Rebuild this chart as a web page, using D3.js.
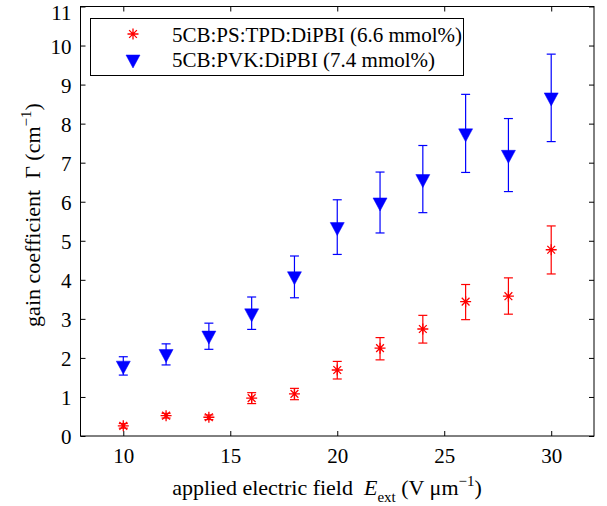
<!DOCTYPE html>
<meta charset="utf-8">
<script src="https://d3js.org/d3.v7.min.js"></script>
<style>
body { margin: 0; background: #fff; }
text { font-family: "Liberation Serif", "Times New Roman", serif; fill: #000; }
.axis path { display: none; }
.axis line { stroke: #000; stroke-width: 1px; }
</style>
<body>
<div id="chart"></div>
<script>
// applied field (V/um)
var fieldValues = [10, 12, 14, 16, 18, 20, 22, 24, 26, 28, 30];

// 5CB:PS:TPD:DiPBI (6.6 mmol%)
var psGain = [0.26, 0.52, 0.48, 0.97, 1.08, 1.69, 2.25, 2.74, 3.44, 3.58, 4.77];
var psLow  = [0.20, 0.46, 0.42, 0.83, 0.93, 1.46, 1.95, 2.38, 2.98, 3.12, 4.15];
var psHigh = [0.32, 0.58, 0.54, 1.11, 1.22, 1.91, 2.52, 3.09, 3.88, 4.05, 5.38];

// 5CB:PVK:DiPBI (7.4 mmol%)
var pvkGain = [1.75, 2.05, 2.52, 3.09, 4.04, 5.30, 5.93, 6.53, 7.70, 7.15, 8.62];
var pvkLow  = [1.56, 1.82, 2.22, 2.73, 3.54, 4.65, 5.20, 5.72, 6.75, 6.26, 7.54];
var pvkHigh = [2.03, 2.36, 2.89, 3.56, 4.61, 6.05, 6.76, 7.44, 8.75, 8.13, 9.78];

var seriesNames = ['5CB:PS:TPD:DiPBI (6.6 mmol%)', '5CB:PVK:DiPBI (7.4 mmol%)'];
var seriesColors = ['#ff0000', '#0000ff'];

var xTicks = [10, 15, 20, 25, 30];
var yTicks = [0, 1, 2, 3, 4, 5, 6, 7, 8, 9, 10, 11];

var width = 607, height = 506;
var margin = {top: 6.5, right: 13, bottom: 70, left: 80.5};

var svg = d3.select('#chart').append('svg')
    .attr('width', width)
    .attr('height', height);

var x = d3.scaleLinear().domain([8, 32]).range([margin.left, width - margin.right]);
var y = d3.scaleLinear().domain([0, 11]).range([height - margin.bottom, margin.top]);

var tickLen = 5;

// bottom & top axes (ticks inward)
svg.append('g').attr('class', 'axis')
    .attr('transform', 'translate(0,' + y(0) + ')')
    .call(d3.axisBottom(x).tickValues(xTicks).tickSize(-tickLen).tickPadding(12))
    .selectAll('text').style('font-size', '21px');
svg.append('g').attr('class', 'axis')
    .attr('transform', 'translate(0,' + y(11) + ')')
    .call(d3.axisTop(x).tickValues(xTicks).tickSize(-tickLen).tickFormat(''));

// left & right axes
svg.append('g').attr('class', 'axis')
    .attr('transform', 'translate(' + x(8) + ',0)')
    .call(d3.axisLeft(y).tickValues(yTicks).tickSize(-tickLen).tickPadding(9))
    .selectAll('text')
    .style('font-size', '21px')
    .attr('dy', function(d) { return d === 11 ? '0.62em' : '0.36em'; });
svg.append('g').attr('class', 'axis')
    .attr('transform', 'translate(' + x(32) + ',0)')
    .call(d3.axisRight(y).tickValues(yTicks).tickSize(-tickLen).tickFormat(''));

// frame
svg.append('rect')
    .attr('x', x(8)).attr('y', y(11))
    .attr('width', x(32) - x(8)).attr('height', y(0) - y(11))
    .attr('fill', 'none').attr('stroke', '#000').attr('stroke-width', 1);

// marker shapes
var starPath = (function() {
    var r = 5.5, d = r * Math.SQRT1_2;
    return 'M' + (-r) + ',0L' + r + ',0M0,' + (-r) + 'L0,' + r +
        'M' + (-d) + ',' + (-d) + 'L' + d + ',' + d + 'M' + (-d) + ',' + d + 'L' + d + ',' + (-d);
})();
var triPath = 'M-7,-6.5L7,-6.5L0,6.5Z';

function drawSeries(gain, low, high, color, marker) {
    var g = svg.append('g');
    var capW = 4.5;
    fieldValues.forEach(function(f, i) {
        var cx = x(f);
        g.append('line')
            .attr('x1', cx).attr('x2', cx)
            .attr('y1', y(low[i])).attr('y2', y(high[i]))
            .attr('stroke', color).attr('stroke-width', 1.2);
        [low[i], high[i]].forEach(function(v) {
            g.append('line')
                .attr('x1', cx - capW).attr('x2', cx + capW)
                .attr('y1', y(v)).attr('y2', y(v))
                .attr('stroke', color).attr('stroke-width', 1.2);
        });
    });
    g.selectAll('.mk')
        .data(fieldValues)
        .enter()
        .append('path')
        .attr('transform', function(d, i) { return 'translate(' + x(d) + ',' + y(gain[i]) + ')'; })
        .attr('d', marker)
        .attr('fill', marker === triPath ? color : 'none')
        .attr('stroke', color)
        .attr('stroke-width', marker === triPath ? 0.5 : 1.3);
}

drawSeries(psGain, psLow, psHigh, seriesColors[0], starPath);
drawSeries(pvkGain, pvkLow, pvkHigh, seriesColors[1], triPath);

// legend
var legend = svg.append('g');
legend.append('rect')
    .attr('x', 90.5).attr('y', 18.5)
    .attr('width', 373).attr('height', 57)
    .attr('fill', '#fff').attr('stroke', '#000').attr('stroke-width', 1);
var legMarkers = [starPath, triPath];
var legMarkerY = [34, 61.5];
var legTextY = [42, 67];
seriesNames.forEach(function(name, i) {
    legend.append('path')
        .attr('transform', 'translate(133,' + legMarkerY[i] + ')')
        .attr('d', legMarkers[i])
        .attr('fill', i === 1 ? seriesColors[i] : 'none')
        .attr('stroke', seriesColors[i])
        .attr('stroke-width', i === 1 ? 0.5 : 1.3);
    legend.append('text')
        .attr('x', 172).attr('y', legTextY[i])
        .style('font-size', '21px')
        .text(name);
});

// axis titles
var xt = svg.append('text')
    .attr('text-anchor', 'middle')
    .attr('x', 327).attr('y', 495)
    .style('font-size', '22px');
xt.append('tspan').text('applied electric field\u00a0\u00a0');
xt.append('tspan').style('font-style', 'italic').text('E');
xt.append('tspan').attr('dy', 7).style('font-size', '15px').text('ext');
xt.append('tspan').attr('dy', -7).text(' (V \u03bcm');
xt.append('tspan').attr('dy', -9).style('font-size', '15px').text('\u22121');
xt.append('tspan').attr('dy', 9).text(')');

var yt = svg.append('text')
    .attr('text-anchor', 'middle')
    .attr('transform', 'translate(40,215) rotate(-90)')
    .style('font-size', '22px');
yt.append('tspan').text('gain coefficient\u00a0\u00a0\u0393 (cm');
yt.append('tspan').attr('dy', -9).style('font-size', '15px').text('\u22121');
yt.append('tspan').attr('dy', 9).text(')');
</script>
</body>
